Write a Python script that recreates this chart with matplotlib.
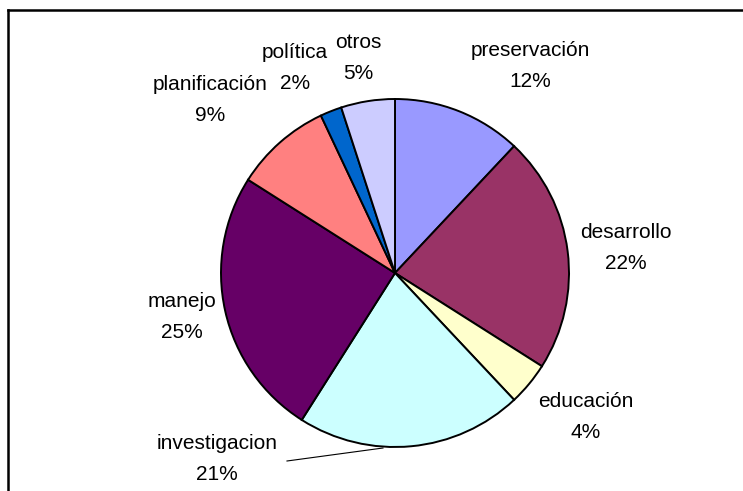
import matplotlib.pyplot as plt
from matplotlib.lines import Line2D

# data, clockwise from 12 o'clock
categories = ["preservación", "desarrollo", "educación", "investigacion",
              "manejo", "planificación", "política", "otros"]
shares = [12, 22, 4, 21, 25, 9, 2, 5]
colors = ["#9999FF", "#993366", "#FFFFCC", "#CCFFFF",
          "#660066", "#FF8080", "#0066CC", "#CCCCFF"]

# layout (pixel coords of label block centres, y from top)
W, H = 743, 491
center_px = (395, 273)
radius_px = 174
label_pos = [(530, 66), (626, 248), (586, 417), (217, 459),
             (182, 317), (210, 100), (295, 68), (358, 58)]

plt.rcParams['font.family'] = ['Liberation Sans', 'DejaVu Sans']

fig = plt.figure(figsize=(W / 100, H / 100), dpi=100)
ax = fig.add_axes([0, 0, 1, 1])

ax.pie(
    shares,
    colors=colors,
    startangle=90,
    counterclock=False,
    center=(center_px[0], H - center_px[1]),
    radius=radius_px,
    wedgeprops={"edgecolor": "black", "linewidth": 1.4},
)
ax.set_xlim(0, W)
ax.set_ylim(0, H)
ax.set_aspect('auto')
ax.axis('off')

for name, pct, (x, y) in zip(categories, shares, label_pos):
    ax.text(x, H - y, f"{name}\n{pct}%", ha='center', va='center',
            fontsize=15, linespacing=1.75, color='black')

# leader line for investigacion
ax.plot([287, 383], [H - 461, H - 448], color='black', linewidth=0.8)

# chart frame (top and left edges visible)
fig.add_artist(Line2D([8 / W, 1], [1 - 10 / H, 1 - 10 / H],
                      transform=fig.transFigure, color='black', linewidth=1.8))
fig.add_artist(Line2D([8 / W, 8 / W], [0, 1 - 10 / H],
                      transform=fig.transFigure, color='black', linewidth=1.8))

fig.savefig("out.png", dpi=100)
